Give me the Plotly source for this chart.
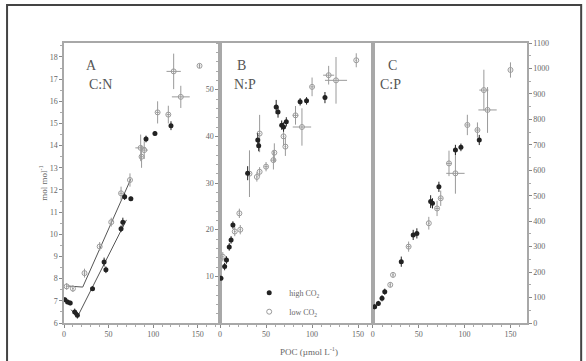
import plotly.graph_objects as go

# ---- Panel A: C:N (mol mol-1) vs POC ----
a_hi_x = [1, 4, 7, 12, 15, 32, 45, 47, 64, 66, 68, 75, 92, 102, 120]
a_hi_y = [7.05, 6.95, 6.9, 6.5, 6.35, 7.55, 8.75, 8.4, 10.25, 10.55, 11.7, 11.6, 14.3, 14.55, 14.9]
a_hi_ey = [0.1, 0.1, 0.1, 0.15, 0.15, 0.1, 0.2, 0.15, 0.15, 0.2, 0.15, 0.1, 0.15, 0.1, 0.2]
a_lo_x = [3, 10, 23, 40, 53, 64, 74, 86, 90, 87, 105, 117, 123, 131, 152]
a_lo_y = [7.65, 7.55, 8.25, 9.45, 10.55, 11.85, 12.45, 13.9, 13.8, 13.5, 15.5, 15.4, 17.35, 16.2, 17.6]
a_lo_ex = [1, 1, 1, 1, 1, 2, 1, 6, 4, 2, 2, 2, 8, 10, 1]
a_lo_ey = [0.15, 0.15, 0.2, 0.2, 0.2, 0.3, 0.3, 0.6, 0.4, 0.5, 0.5, 0.4, 0.8, 0.5, 0.1]
# fitted lines in panel A
a_fit_hi_x = [8, 15, 70]
a_fit_hi_y = [6.6, 6.27, 10.65]
a_fit_lo_x = [4, 21, 75]
a_fit_lo_y = [7.67, 7.62, 12.5]

# ---- Panel B: N:P ----
b_hi_x = [1, 5, 7, 10, 12, 14, 30, 41, 42, 61, 63, 67, 69, 72, 87, 94, 114]
b_hi_y = [9.6, 12.1, 13.5, 16.3, 17.8, 21.0, 32.1, 39.2, 38.0, 46.3, 45.2, 42.4, 42.0, 43.1, 47.4, 47.6, 48.3]
b_hi_ey = [0.5, 0.8, 0.8, 0.8, 0.8, 0.8, 1.5, 1.5, 1.2, 1.5, 1.2, 1.0, 1.0, 1.0, 0.8, 0.8, 1.2]
b_lo_x = [3, 16, 21, 22, 32, 40, 43, 50, 58, 43, 59, 71, 69, 82, 89, 100, 118, 126, 148]
b_lo_y = [14.2, 19.6, 23.5, 20.0, 32.0, 31.3, 32.4, 33.5, 34.9, 40.6, 36.5, 37.8, 40.0, 44.5, 42.0, 50.6, 53.1, 52.0, 56.3]
b_lo_ex = [1, 1, 1, 1, 1, 1, 1, 2, 3, 1, 1, 1, 1, 3, 10, 2, 6, 12, 1]
b_lo_ey = [1, 1, 1, 1, 5, 1, 1, 1, 2, 4, 2, 2, 2, 2, 4, 2, 2, 5, 1.5]

# ---- Panel C: C:P ----
c_hi_x = [2, 6, 10, 13, 31, 44, 48, 63, 65, 72, 90, 96, 116]
c_hi_y = [64, 77, 97, 123, 241, 346, 352, 477, 470, 535, 680, 690, 719]
c_hi_ey = [10, 10, 12, 12, 20, 20, 20, 25, 20, 20, 20, 15, 20]
c_lo_x = [19, 22, 39, 61, 74, 70, 83, 90, 103, 114, 121, 125, 150]
c_lo_y = [150, 189, 300, 392, 490, 450, 627, 588, 778, 758, 915, 837, 994]
c_lo_ex = [1, 1, 2, 1, 2, 2, 3, 10, 2, 2, 5, 10, 1]
c_lo_ey = [10, 10, 20, 25, 30, 30, 50, 80, 40, 30, 80, 90, 30]

SERIF = "Liberation Serif"
GRAY = "#9a9a9a"
TXT = "#666666"

fig = go.Figure()


def add_panel(xa, ya, hx, hy, hey, lx, ly, lex, ley, show):
    fig.add_trace(go.Scatter(
        x=lx, y=ly, xaxis=xa, yaxis=ya, mode="markers", name="low CO<sub>2</sub>",
        showlegend=show, legendrank=2,
        marker=dict(symbol="circle-open", size=5, color=GRAY, line=dict(width=1)),
        error_x=dict(array=lex, color=GRAY, thickness=1, width=0),
        error_y=dict(array=ley, color=GRAY, thickness=1, width=0),
    ))
    fig.add_trace(go.Scatter(
        x=hx, y=hy, xaxis=xa, yaxis=ya, mode="markers", name="high CO<sub>2</sub>",
        showlegend=show, legendrank=1,
        marker=dict(symbol="circle", size=5, color="#222222"),
        error_y=dict(array=hey, color="#222222", thickness=1, width=0),
    ))


for fx, fy in [(a_fit_hi_x, a_fit_hi_y), (a_fit_lo_x, a_fit_lo_y)]:
    fig.add_trace(go.Scatter(x=fx, y=fy, mode="lines", showlegend=False,
                             line=dict(color="#555555", width=1)))

add_panel("x", "y", a_hi_x, a_hi_y, a_hi_ey, a_lo_x, a_lo_y, a_lo_ex, a_lo_ey, False)
add_panel("x2", "y2", b_hi_x, b_hi_y, b_hi_ey, b_lo_x, b_lo_y, b_lo_ex, b_lo_ey, True)
add_panel("x3", "y3", c_hi_x, c_hi_y, c_hi_ey, c_lo_x, c_lo_y, c_lo_ex, c_lo_ey, False)

axis_common = dict(showline=True, linecolor="#a8a8a8", linewidth=1.5, mirror=True,
                   showgrid=False, zeroline=False, ticks="outside", ticklen=3,
                   tickcolor="#888888", tickfont=dict(family=SERIF, size=8, color=TXT))
xticks = dict(tickvals=[0, 50, 100, 150], minor=dict(dtick=10, ticks="outside",
                                                     ticklen=2, tickcolor="#aaaaaa"))

fig.update_layout(
    width=586, height=361,
    margin=dict(l=64, r=59, t=43, b=38),
    paper_bgcolor="white", plot_bgcolor="white",
    xaxis=dict(domain=[0, 0.337], range=[0, 175], anchor="y", **xticks, **axis_common),
    xaxis2=dict(domain=[0.337, 0.667], range=[0, 166], anchor="y2", **xticks, **axis_common),
    xaxis3=dict(domain=[0.667, 1], range=[0, 168], anchor="y3", **xticks, **axis_common),
    yaxis=dict(range=[6, 18.63], anchor="x", dtick=1,
               minor=dict(dtick=0.5, ticks="outside", ticklen=2, tickcolor="#aaaaaa"),
               **axis_common),
    yaxis2=dict(range=[0, 60], anchor="x2", tickvals=[10, 20, 30, 40, 50],
                minor=dict(dtick=2, ticks="outside", ticklen=2, tickcolor="#aaaaaa"),
                **axis_common),
    yaxis3=dict(range=[0, 1100], anchor="x3", side="right", dtick=100,
                minor=dict(dtick=50, ticks="outside", ticklen=2, tickcolor="#aaaaaa"),
                **axis_common),
    legend=dict(x=0.40, y=0.16, xanchor="left", yanchor="top",
                bgcolor="rgba(0,0,0,0)", font=dict(family=SERIF, size=8, color=TXT),
                itemwidth=30, tracegroupgap=0),
    showlegend=True,
)

labels = [("A", 0.044, 0.955), ("C:N", 0.05, 0.885),
          ("B", 0.383, 0.955), ("N:P", 0.39, 0.885),
          ("C", 0.724, 0.955), ("C:P", 0.732, 0.885)]
for txt, px, py in labels:
    fig.add_annotation(text=txt, x=px, y=py, xref="paper", yref="paper",
                       showarrow=False, font=dict(family=SERIF, size=14, color="#555555"))

fig.add_annotation(text="POC (µmol L<sup>-1</sup>)", x=0.53, y=-0.128, xref="paper",
                   yref="paper", showarrow=False,
                   font=dict(family=SERIF, size=9, color=TXT))
fig.add_annotation(text="mol mol<sup>-1</sup>", x=-0.063, y=0.5, xref="paper",
                   yref="paper", showarrow=False, textangle=-90,
                   font=dict(family=SERIF, size=9, color=TXT))

# outer frame of the figure
fig.add_shape(type="rect", xref="paper", yref="paper", x0=-0.123, x1=1.117,
              y0=-0.3, y1=1.136, line=dict(color="#444444", width=2))

# drop the page's default body margin so the figure sits at the window origin
fig.write_html("out.html", config={"displayModeBar": False},
               post_script="document.body.style.margin='0';")
